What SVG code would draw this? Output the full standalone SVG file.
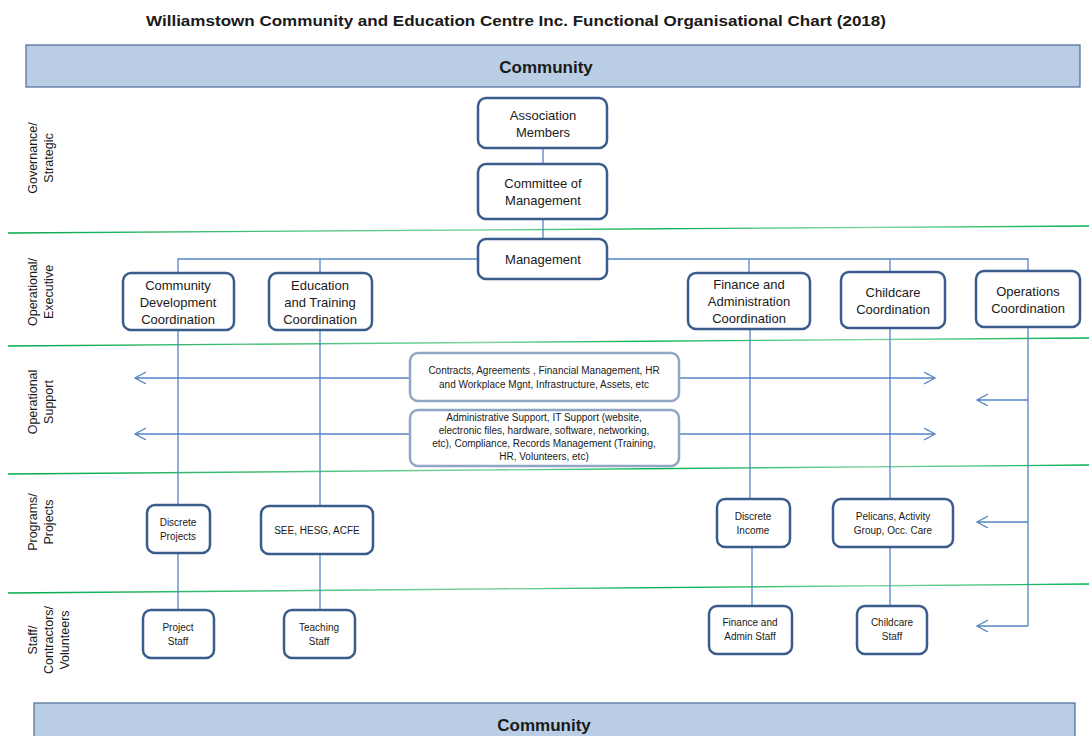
<svg xmlns="http://www.w3.org/2000/svg" width="1089" height="736" viewBox="0 0 1089 736">
<style>
.t{font-family:"Liberation Sans",Arial,sans-serif;fill:#1a1a1a;text-anchor:middle}
.n{fill:#fff;stroke:#3a5c8c;stroke-width:2.5}
.s{fill:#fff;stroke:#91a6c4;stroke-width:2.5}
.band{fill:#b9cde5;stroke:#4a6a98;stroke-width:1.2}
.c{fill:none;stroke:#5585c4;stroke-width:1.3}
.g{fill:none;stroke:url(#gr);stroke-width:1.4}
.lab{font-size:12.5px}
.m{font-size:13px}
.sm{font-size:10px}
</style>
<defs>
<linearGradient id="gr" gradientUnits="userSpaceOnUse" x1="0" y1="0" x2="1089" y2="0">
<stop offset="0" stop-color="#00a84a"/>
<stop offset="0.45" stop-color="#7fd3a0"/>
<stop offset="0.6" stop-color="#00b050"/>
<stop offset="0.8" stop-color="#7fd3a0"/>
<stop offset="1" stop-color="#00b050"/>
</linearGradient>
<marker id="ar" markerUnits="userSpaceOnUse" markerWidth="14" markerHeight="14" refX="11" refY="6" orient="auto">
<path d="M0,0 L11,6 L0,12" fill="none" stroke="#5585c4" stroke-width="1.3"/>
</marker>
</defs>
<rect width="1089" height="736" fill="#fff"/>
<text class="t" x="516" y="26" font-size="15" font-weight="bold" textLength="740" lengthAdjust="spacingAndGlyphs">Williamstown Community and Education Centre Inc. Functional Organisational Chart (2018)</text>
<g id="band-top"><rect class="band" x="26" y="45" width="1054" height="42"/><text class="t" x="546" y="73" font-size="17" font-weight="bold">Community</text></g>
<g id="band-bottom"><rect class="band" x="34" y="703" width="1041" height="40"/><text class="t" x="544" y="731" font-size="17" font-weight="bold">Community</text></g>
<g id="dividers">
<line class="g" x1="8" y1="233" x2="1089" y2="226"/>
<line class="g" x1="8" y1="346" x2="1089" y2="338"/>
<line class="g" x1="8" y1="474" x2="1089" y2="465"/>
<line class="g" x1="8" y1="593" x2="1089" y2="584"/>
</g>
<g id="lane-labels" class="t lab">
<text transform="translate(37,158) rotate(-90)">Governance/</text>
<text transform="translate(53,158) rotate(-90)">Strategic</text>
<text transform="translate(37,292) rotate(-90)">Operational/</text>
<text transform="translate(53,292) rotate(-90)">Executive</text>
<text transform="translate(37,402) rotate(-90)">Operational</text>
<text transform="translate(53,402) rotate(-90)">Support</text>
<text transform="translate(37,522) rotate(-90)">Programs/</text>
<text transform="translate(53,522) rotate(-90)">Projects</text>
<text transform="translate(37,640) rotate(-90)">Staff/</text>
<text transform="translate(53,640) rotate(-90)">Contractors/</text>
<text transform="translate(69,640) rotate(-90)">Volunteers</text>
</g>
<g id="connectors">
<line class="c" x1="543" y1="148" x2="543" y2="164"/>
<line class="c" x1="543" y1="219" x2="543" y2="239"/>
<polyline class="c" points="178,274 178,259 1028,259 1028,271"/>
<line class="c" x1="320" y1="259" x2="320" y2="273"/>
<line class="c" x1="749" y1="259" x2="749" y2="273"/>
<line class="c" x1="890" y1="259" x2="890" y2="272"/>
<line class="c" x1="178" y1="330" x2="178" y2="505"/>
<line class="c" x1="320" y1="330" x2="320" y2="506"/>
<line class="c" x1="750" y1="329" x2="750" y2="499"/>
<line class="c" x1="890" y1="328" x2="890" y2="499"/>
<line class="c" x1="1028" y1="327" x2="1028" y2="626"/>
<line class="c" x1="178" y1="553" x2="178" y2="610"/>
<line class="c" x1="320" y1="554" x2="320" y2="610"/>
<line class="c" x1="752" y1="547" x2="752" y2="606"/>
<line class="c" x1="890" y1="547" x2="890" y2="606"/>
<line class="c" x1="410" y1="378" x2="135" y2="378" marker-end="url(#ar)"/>
<line class="c" x1="679" y1="378" x2="935" y2="378" marker-end="url(#ar)"/>
<line class="c" x1="410" y1="434" x2="135" y2="434" marker-end="url(#ar)"/>
<line class="c" x1="679" y1="434" x2="935" y2="434" marker-end="url(#ar)"/>
<line class="c" x1="1028" y1="400" x2="977" y2="400" marker-end="url(#ar)"/>
<line class="c" x1="1028" y1="522" x2="977" y2="522" marker-end="url(#ar)"/>
<line class="c" x1="1028" y1="626" x2="977" y2="626" marker-end="url(#ar)"/>
</g>
<g id="association-members"><rect class="n" x="478" y="98" width="129" height="50" rx="8"/><text class="t m" x="543" y="120">Association</text><text class="t m" x="543" y="137">Members</text></g>
<g id="committee"><rect class="n" x="478" y="164" width="129" height="55" rx="8"/><text class="t m" x="543" y="188">Committee of</text><text class="t m" x="543" y="205">Management</text></g>
<g id="management"><rect class="n" x="478" y="239" width="129" height="40" rx="8"/><text class="t m" x="543" y="264">Management</text></g>
<g id="community-dev"><rect class="n" x="123" y="273" width="111" height="57" rx="8"/><text class="t m" x="178" y="290">Community</text><text class="t m" x="178" y="307">Development</text><text class="t m" x="178" y="324">Coordination</text></g>
<g id="education"><rect class="n" x="269" y="273" width="103" height="57" rx="8"/><text class="t m" x="320" y="290">Education</text><text class="t m" x="320" y="307">and Training</text><text class="t m" x="320" y="324">Coordination</text></g>
<g id="finance"><rect class="n" x="688" y="273" width="122" height="56" rx="8"/><text class="t m" x="749" y="289">Finance and</text><text class="t m" x="749" y="306">Administration</text><text class="t m" x="749" y="323">Coordination</text></g>
<g id="childcare"><rect class="n" x="841" y="272" width="104" height="56" rx="8"/><text class="t m" x="893" y="297">Childcare</text><text class="t m" x="893" y="314">Coordination</text></g>
<g id="operations"><rect class="n" x="976" y="271" width="104" height="56" rx="8"/><text class="t m" x="1028" y="296">Operations</text><text class="t m" x="1028" y="313">Coordination</text></g>
<g id="support-1"><rect class="s" x="410" y="353" width="269" height="48" rx="8"/><text class="t sm" x="544" y="374">Contracts, Agreements , Financial Management,  HR</text><text class="t sm" x="544" y="388">and Workplace Mgnt, Infrastructure, Assets, etc</text></g>
<g id="support-2"><rect class="s" x="410" y="410" width="269" height="56" rx="8"/><text class="t sm" x="544" y="421">Administrative Support,  IT Support (website,</text><text class="t sm" x="544" y="434">electronic files, hardware, software, networking,</text><text class="t sm" x="544" y="447">etc), Compliance, Records Management (Training,</text><text class="t sm" x="544" y="460">HR, Volunteers, etc)</text></g>
<g id="discrete-projects"><rect class="n" x="147" y="505" width="63" height="48" rx="8"/><text class="t sm" x="178" y="526">Discrete</text><text class="t sm" x="178" y="540">Projects</text></g>
<g id="see-hesg"><rect class="n" x="261" y="506" width="112" height="48" rx="8"/><text class="t sm" x="317" y="534">SEE, HESG, ACFE</text></g>
<g id="discrete-income"><rect class="n" x="717" y="499" width="73" height="48" rx="8"/><text class="t sm" x="753" y="520">Discrete</text><text class="t sm" x="753" y="534">Income</text></g>
<g id="pelicans"><rect class="n" x="833" y="499" width="120" height="48" rx="8"/><text class="t sm" x="893" y="520">Pelicans, Activity</text><text class="t sm" x="893" y="534">Group, Occ. Care</text></g>
<g id="project-staff"><rect class="n" x="143" y="610" width="71" height="48" rx="8"/><text class="t sm" x="178" y="631">Project</text><text class="t sm" x="178" y="645">Staff</text></g>
<g id="teaching-staff"><rect class="n" x="284" y="610" width="71" height="48" rx="8"/><text class="t sm" x="319" y="631">Teaching</text><text class="t sm" x="319" y="645">Staff</text></g>
<g id="finance-staff"><rect class="n" x="709" y="606" width="83" height="48" rx="8"/><text class="t sm" x="750" y="626">Finance and</text><text class="t sm" x="750" y="640">Admin Staff</text></g>
<g id="childcare-staff"><rect class="n" x="857" y="606" width="70" height="48" rx="8"/><text class="t sm" x="892" y="626">Childcare</text><text class="t sm" x="892" y="640">Staff</text></g>
</svg>
